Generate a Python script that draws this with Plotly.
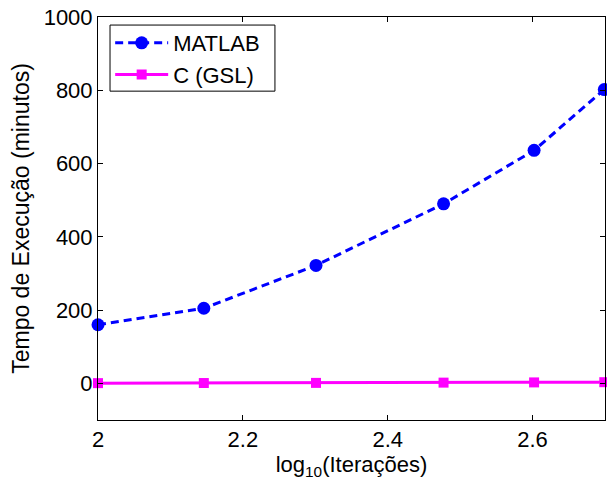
import plotly.graph_objects as go

x_log_iter = [2.0, 2.1461, 2.3010, 2.4771, 2.6021, 2.6990]
matlab_min = [160, 205, 322, 490, 636, 802]
c_gsl_min = [0.6, 0.9, 1.3, 2.0, 2.6, 3.2]
x_ticks = [2.0, 2.2, 2.4, 2.6]
x_tick_labels = ["2", "2.2", "2.4", "2.6"]
y_ticks = [0, 200, 400, 600, 800, 1000]

font = "Liberation Sans, Arial, Helvetica, sans-serif"
fs = 22

fig = go.Figure()
fig.add_trace(go.Scatter(
    x=x_log_iter, y=matlab_min, name="MATLAB", mode="lines+markers",
    line=dict(color="#0000ff", width=3, dash="8px,5px"),
    marker=dict(symbol="circle", size=13, color="#0000ff"),
    cliponaxis=False,
))
fig.add_trace(go.Scatter(
    x=x_log_iter, y=c_gsl_min, name="C (GSL)", mode="lines+markers",
    line=dict(color="#ff00ff", width=3),
    marker=dict(symbol="square", size=10, color="#ff00ff"),
    cliponaxis=False,
))

axis_common = dict(
    showgrid=False, zeroline=False, showline=True, linecolor="black", linewidth=1,
    mirror="ticks", ticks="inside", ticklen=5, tickcolor="black",
    tickfont=dict(family=font, size=fs, color="black"), automargin=False,
    ticklabeloverflow="allow",
)
fig.update_xaxes(range=[2.0, 2.7], tickvals=x_ticks, ticktext=x_tick_labels,
                 title=dict(text="log<sub>10</sub>(Iterações)", standoff=2,
                            font=dict(family=font, size=fs, color="black")),
                 **axis_common)
fig.update_yaxes(range=[-100, 1000], tickvals=y_ticks,
                 title=dict(text="Tempo de Execução (minutos)", standoff=12,
                            font=dict(family=font, size=23, color="black")),
                 **axis_common)

# legend frame (MATLAB-style compact box)
fig.add_shape(type="rect", xref="paper", yref="paper",
              x0=0.0237, x1=0.349, y0=0.816, y1=0.980,
              line=dict(color="black", width=1), fillcolor="white", layer="below")

# page body has an 8px default margin, so the paper is 8px smaller
fig.update_layout(
    width=607, height=473,
    margin=dict(l=90, r=10, t=9, b=61, autoexpand=False),
    paper_bgcolor="white", plot_bgcolor="white",
    showlegend=True,
    legend=dict(x=0.024, y=0.9876, xanchor="left", yanchor="top",
                bgcolor="rgba(0,0,0,0)", borderwidth=0,
                font=dict(family=font, size=fs, color="black"),
                itemwidth=53, tracegroupgap=0),
)

fig.write_html("out.html")
